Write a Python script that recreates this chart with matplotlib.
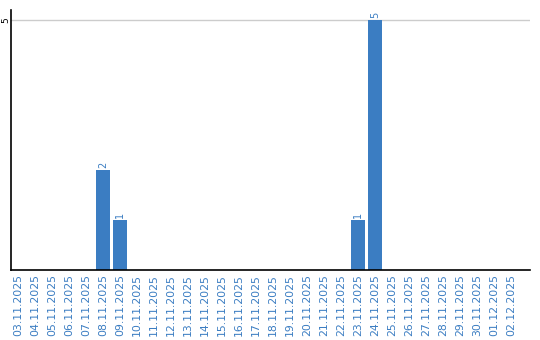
import matplotlib
matplotlib.use('Agg')
import matplotlib.pyplot as plt
import numpy as np

BLUE = '#3b7dc2'

dates = ['03.11.2025', '04.11.2025', '05.11.2025', '06.11.2025', '07.11.2025',
         '08.11.2025', '09.11.2025', '10.11.2025', '11.11.2025', '12.11.2025',
         '13.11.2025', '14.11.2025', '15.11.2025', '16.11.2025', '17.11.2025',
         '18.11.2025', '19.11.2025', '20.11.2025', '21.11.2025', '22.11.2025',
         '23.11.2025', '24.11.2025', '25.11.2025', '26.11.2025', '27.11.2025',
         '28.11.2025', '29.11.2025', '30.11.2025', '01.12.2025', '02.12.2025']
counts = [0, 0, 0, 0, 0, 2, 1, 0, 0, 0,
          0, 0, 0, 0, 0, 0, 0, 0, 0, 0,
          1, 5, 0, 0, 0, 0, 0, 0, 0, 0]

fig = plt.figure(figsize=(5.4, 3.4), dpi=100)
ax = fig.add_axes([11/540, 70/340, 519/540, 260/340])

x = np.arange(len(dates))
bars = ax.bar(x, counts, width=0.84, color=BLUE, zorder=2)

for xi, v in zip(x, counts):
    if v > 0:
        ax.text(xi, v + 0.04, str(v), rotation=90, ha='center', va='bottom',
                fontsize=7, color=BLUE)

ax.set_xlim(-0.41, 30.1)
ax.set_ylim(0, 5.2)
ax.set_xticks(x)
ax.set_xticklabels(dates, rotation=90, fontsize=7.8, color=BLUE)
ax.set_yticks([5])
ax.set_yticklabels(['5'], rotation=90, fontsize=6.5, va='center')
ax.tick_params(axis='x', length=0, pad=3)
ax.tick_params(axis='y', length=0, pad=0.5)
ax.grid(axis='y', color='#cccccc', linewidth=1, zorder=0)

for s in ['top', 'right']:
    ax.spines[s].set_visible(False)
for s in ['left', 'bottom']:
    ax.spines[s].set_color('black')
    ax.spines[s].set_linewidth(1.2)

fig.savefig('out.png', dpi=100, facecolor='white')
